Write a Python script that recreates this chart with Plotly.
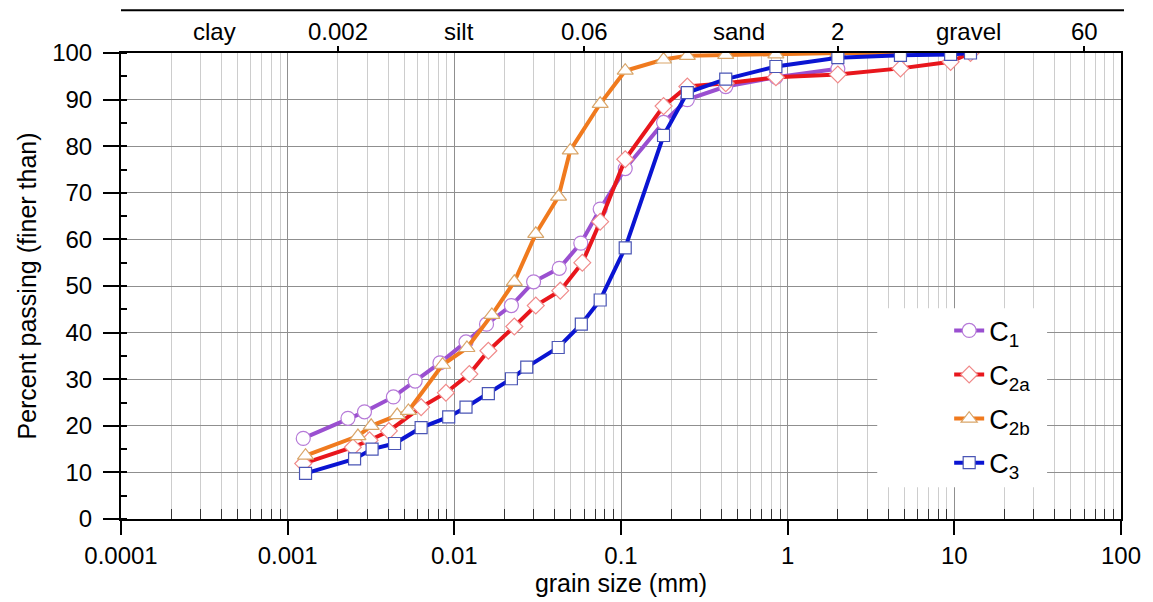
import math
import plotly.graph_objects as go

# ---- data (grain size in mm, percent passing) ----
c1_x = [0.00124, 0.0023, 0.00289, 0.00431, 0.00582, 0.0082, 0.01175, 0.0156, 0.022, 0.0299,
        0.0426, 0.0574, 0.075, 0.106, 0.18, 0.25, 0.425, 0.85, 2.0]
c1_y = [17.3, 21.6, 23.0, 26.2, 29.6, 33.5, 38.0, 41.8, 45.8, 50.9,
        53.8, 59.2, 66.5, 75.2, 85.1, 90.0, 92.8, 94.8, 96.6]

c2a_x = [0.00124, 0.00246, 0.0031, 0.00405, 0.00632, 0.0089, 0.0123, 0.016, 0.0229, 0.0308,
         0.0432, 0.0586, 0.075, 0.106, 0.18, 0.25, 0.425, 0.85, 2.0, 4.75, 9.5, 12.5]
c2a_y = [11.9, 15.4, 16.9, 18.9, 24.0, 27.1, 31.1, 36.1, 41.3, 45.8,
         49.0, 55.0, 63.8, 77.2, 88.6, 92.8, 93.5, 94.8, 95.4, 96.7, 98.1, 100.0]

c2b_x = [0.00128, 0.00264, 0.00317, 0.00454, 0.0053, 0.0085, 0.0119, 0.0168, 0.0229, 0.0308,
         0.0422, 0.0496, 0.075, 0.106, 0.18, 0.25, 0.425, 0.85, 2.0, 4.75]
c2b_y = [13.6, 17.8, 20.0, 22.3, 23.2, 33.1, 36.7, 43.8, 50.9, 61.2,
         69.2, 79.1, 89.1, 96.2, 98.6, 99.4, 99.6, 99.7, 100.0, 100.0]

c3_x = [0.00128, 0.00252, 0.00321, 0.00438, 0.00632, 0.00925, 0.01175, 0.016, 0.022, 0.0272,
        0.042, 0.0578, 0.075, 0.106, 0.18, 0.25, 0.425, 0.85, 2.0, 4.75, 9.5, 12.5]
c3_y = [9.8, 12.9, 15.0, 16.2, 19.6, 21.9, 24.0, 26.9, 30.1, 32.6,
        36.8, 41.8, 47.0, 58.2, 82.3, 91.5, 94.4, 97.1, 99.0, 99.5, 99.7, 100.0]

x_tickvals = [0.0001, 0.001, 0.01, 0.1, 1, 10, 100]
x_ticktext = ["0.0001", "0.001", "0.01", "0.1", "1", "10", "100"]
class_bounds = [0.002, 0.06, 2, 60]
class_bound_text = ["0.002", "0.06", "2", "60"]
class_names = ["clay", "silt", "sand", "gravel"]
class_label_pos = [0.000366, 0.0107, 0.51, 12.1]

FONT = "Liberation Sans, Arial, sans-serif"

series = [
    ("C<sub>1</sub>", c1_x, c1_y, "#9a4fd0", "circle", 14, "#b67ad8"),
    ("C<sub>2a</sub>", c2a_x, c2a_y, "#e8161c", "diamond", 13, "#f08a8a"),
    ("C<sub>2b</sub>", c2b_x, c2b_y, "#f07a1e", "triangle-up", 14, "#d9a66a"),
    ("C<sub>3</sub>", c3_x, c3_y, "#0a14d2", "square", 12, "#4a55b5"),
]

fig = go.Figure()
for i, (name, xs, ys, col, sym, sz, ocol) in enumerate(series):
    fig.add_trace(go.Scatter(
        x=xs, y=ys, name=name, mode="lines+markers", legendgroup=f"g{i}",
        line=dict(color=col, width=4),
        marker=dict(symbol=sym, size=sz, color="white", line=dict(color=ocol, width=1.2)),
    ))

# invisible trace so the top (class boundary) axis is drawn
fig.add_trace(go.Scatter(x=class_bounds, y=[-10] * len(class_bounds), xaxis="x2",
                         mode="markers", marker=dict(opacity=0), showlegend=False,
                         hoverinfo="skip"))

minor_vals = [m * 10 ** e for e in range(-4, 2) for m in range(2, 10)]

fig.update_layout(
    width=1153, height=602,
    margin=dict(l=121, r=31, t=53, b=80),
    paper_bgcolor="white", plot_bgcolor="white",
    font=dict(family=FONT, size=24, color="black"),
    xaxis=dict(
        type="log", range=[-4, 2],
        tickvals=x_tickvals, ticktext=x_ticktext,
        ticks="outside", ticklen=14, tickwidth=1.5, tickcolor="black",
        showline=True, linecolor="black", linewidth=2, mirror=True,
        showgrid=True, gridcolor="#8f8f8f", gridwidth=1,
        minor=dict(tickvals=minor_vals, ticks="inside", ticklen=10, tickcolor="#333",
                   tickwidth=1, showgrid=True, gridcolor="#cdcdcd", gridwidth=1),
        title=dict(text="grain size (mm)", font=dict(size=25), standoff=4),
        zeroline=False,
    ),
    xaxis2=dict(
        type="log", range=[-4, 2], overlaying="x", side="top", anchor="y",
        tickvals=class_bounds, showticklabels=False,
        ticks="outside", ticklen=6, tickwidth=1.5, tickcolor="black",
        showgrid=False, showline=False, zeroline=False,
    ),
    yaxis=dict(
        range=[0, 100], dtick=10, tick0=0,
        ticks="outside", ticklen=16, tickwidth=1.5, tickcolor="black",
        showline=True, linecolor="black", linewidth=2, mirror=True,
        showgrid=True, gridcolor="#8f8f8f", gridwidth=1,
        minor=dict(dtick=5, ticks="inside", ticklen=6, tickcolor="black", showgrid=False),
        title=dict(text="Percent passing (finer than)", font=dict(size=25), standoff=8),
        zeroline=False, ticklabelstandoff=6,
    ),
    legend=dict(
        x=(950 - 121) / 1001, y=(522 - 308) / 469, xanchor="left", yanchor="top",
        bgcolor="rgba(0,0,0,0)", font=dict(size=27), tracegroupgap=6,
        itemwidth=30,
    ),
    showlegend=True,
)

# white legend background box
fig.add_shape(type="rect", xref="paper", yref="paper",
              x0=(878 - 121) / 1001, x1=(1048 - 121) / 1001,
              y0=(522 - 490) / 469, y1=(522 - 310) / 469,
              fillcolor="white", line=dict(width=0), layer="above")

# top band line
fig.add_shape(type="line", xref="paper", yref="paper", x0=0, x1=1.003,
              y0=(522 - 10) / 469, y1=(522 - 10) / 469,
              line=dict(color="black", width=2))

top_y = (522 - 31) / 469
for nm, pos in zip(class_names, class_label_pos):
    fig.add_annotation(x=math.log10(pos), y=top_y, xref="x", yref="paper",
                       text=nm, showarrow=False, yanchor="middle",
                       font=dict(size=24, family=FONT))
for txt, pos in zip(class_bound_text, class_bounds):
    fig.add_annotation(x=math.log10(pos), y=top_y, xref="x", yref="paper",
                       text=txt, showarrow=False, yanchor="middle",
                       font=dict(size=24, family=FONT))

fig.write_html("out.html")
